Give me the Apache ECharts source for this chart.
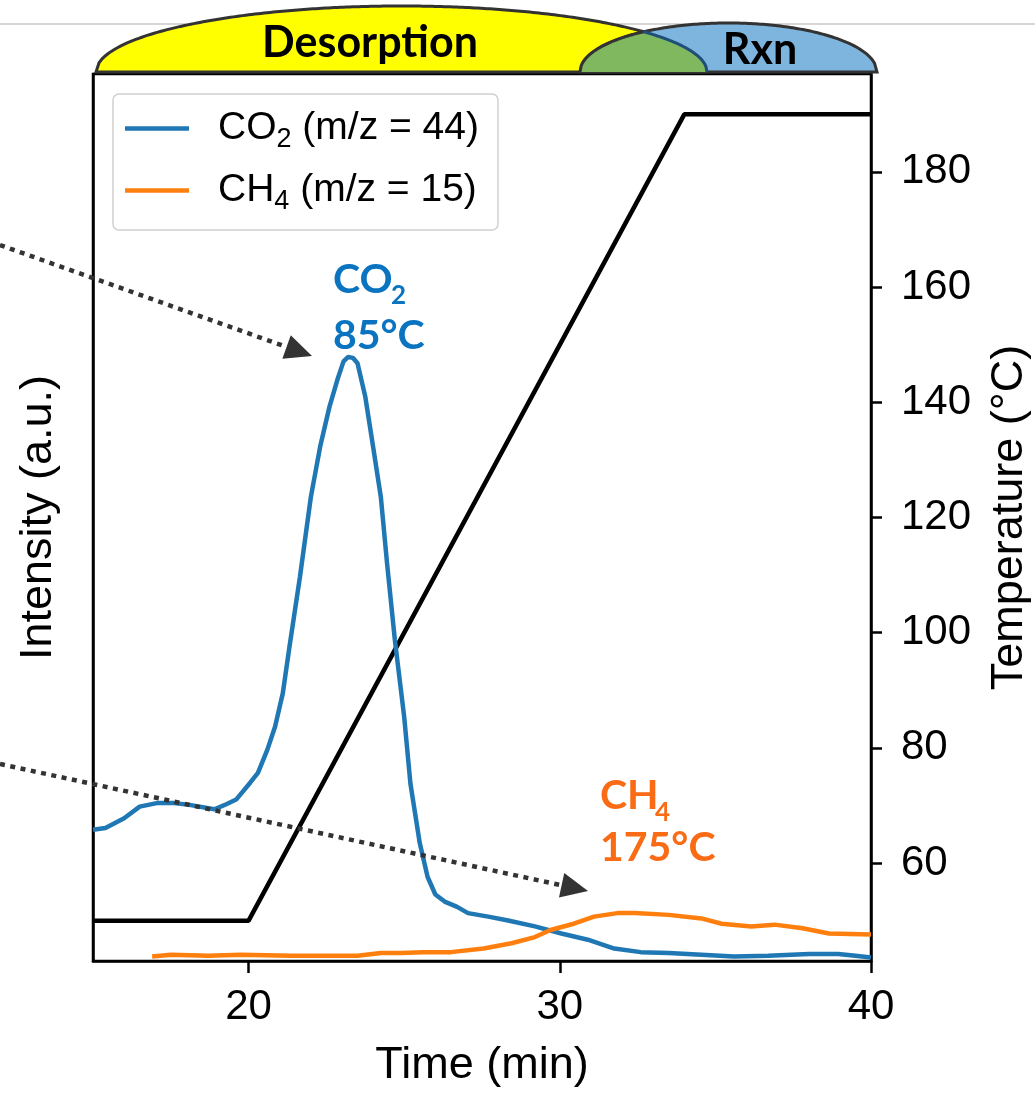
<!DOCTYPE html>
<html><head><meta charset="utf-8">
<script src="https://cdn.jsdelivr.net/npm/echarts@6/dist/echarts.min.js"></script>
<style>html,body{margin:0;padding:0;background:#fff;overflow:hidden}#c{width:1035px;height:1094px}</style>
</head><body><div id="c"></div>
<script>
// ---- data ----
const co2Time = [15.0,15.4,16.0,16.5,17.05,17.6,18.1,18.9,19.3,19.6,20.05,20.3,20.6,20.85,21.1,21.3,21.65,22.0,22.3,22.6,22.85,23.05,23.2,23.35,23.5,23.75,24.0,24.25,24.45,24.7,25.0,25.2,25.5,25.75,26.0,26.3,26.7,27.05,27.7,28.3,29.2,30.05,30.9,31.75,32.6,33.5,34.55,35.6,36.7,38.0,38.95,39.5,40.0];
const co2Intensity = [14.8,15.0,16.1,17.4,17.8,17.8,17.6,17.1,17.7,18.2,20.1,21.2,23.8,26.4,30.2,35.1,43.3,52.3,58.0,62.5,65.5,67.6,68.1,68.0,67.4,63.6,58.0,52.3,44.8,36.2,27.5,20.0,13.3,9.5,7.5,6.7,6.1,5.4,5.0,4.6,3.9,3.1,2.4,1.4,1.0,0.9,0.7,0.5,0.6,0.8,0.8,0.6,0.4];
const ch4Time = [16.9,17.5,18.7,19.75,21.35,23.5,24.25,24.9,25.6,26.5,27.55,28.45,29.2,29.7,30.45,31.1,31.85,32.4,33.5,34.55,35.2,36.15,36.9,37.8,38.65,40.0];
const ch4Intensity = [0.5,0.7,0.6,0.7,0.6,0.6,0.9,0.9,1.0,1.0,1.4,2.0,2.7,3.5,4.2,5.0,5.4,5.4,5.2,4.8,4.2,3.9,4.1,3.7,3.1,3.0];
const tempTime = [15,20,34,40];
const tempValues = [50,50,190,190];
const timeTicks = [20,30,40];
const tempTicks = [60,80,100,120,140,160,180];
const seriesNames = ['CO2 (m/z = 44)','CH4 (m/z = 15)'];
const legendRich = {'CO2 (m/z = 44)':['CO','2',' (m/z = 44)'],'CH4 (m/z = 15)':['CH','4',' (m/z = 15)']};

const F = "'Liberation Sans', Arial, sans-serif";
const B = "Lato, 'Open Sans', sans-serif";
const pairs = (xs, ys) => xs.map((x,i)=>[x, ys[i]]);

const chart = echarts.init(document.getElementById('c'), null, {renderer:'canvas'});

// ---- header shapes (decoration) ----
const yel = {cx:401.5, a:305.5, b:66, base:72};
const blu = {cx:728.5, a:148.5, b:49, base:72};
function arcY(e,x){const u=(x-e.cx)/e.a; return e.base - e.b*Math.sqrt(Math.max(0,1-u*u));}
function arcPts(e,x0,x1,n){const p=[];for(let i=0;i<=n;i++){const x=x0+(x1-x0)*i/n;p.push([x,arcY(e,x)]);}return p;}
let lo=blu.cx-blu.a+0.01, hi=yel.cx+yel.a-0.01;
for(let i=0;i<60;i++){const m=(lo+hi)/2; if(arcY(yel,m)-arcY(blu,m)<0) lo=m; else hi=m;}
const xi=(lo+hi)/2;
const yelPts = arcPts(yel, yel.cx-yel.a, yel.cx+yel.a, 200);
const bluPts = arcPts(blu, blu.cx-blu.a, blu.cx+blu.a, 120);
const gBlue = arcPts(blu, blu.cx-blu.a, xi, 60);
const gYel = arcPts(yel, xi, yel.cx+yel.a, 60);
const greenPts = gBlue.concat(gYel.slice(1));

function arrow(x0,y0,tx,ty,len,hw){
  const dx=tx-x0, dy=ty-y0, L=Math.hypot(dx,dy), ux=dx/L, uy=dy/L;
  const bx=tx-ux*len, by=ty-uy*len;
  return [
    {type:'line', z:100, shape:{x1:x0,y1:y0,x2:bx,y2:by}, style:{stroke:'#333',lineWidth:4.5,lineDash:[5,5.5]}},
    {type:'polygon', z:100, shape:{points:[[tx,ty],[bx-uy*hw,by+ux*hw],[bx+uy*hw,by-ux*hw]]}, style:{fill:'#333'}}
  ];
}

const graphic = [
  {type:'line', z:1, shape:{x1:0,y1:24,x2:1035,y2:24}, style:{stroke:'#c8c8c8',lineWidth:1.5}},
  {type:'polygon', z:2, shape:{points:yelPts}, style:{fill:'#ffff00',stroke:'#333',lineWidth:3}},
  {type:'polygon', z:3, shape:{points:bluPts}, style:{fill:'#7db5de',stroke:'#333',lineWidth:3}},
  {type:'polygon', z:4, shape:{points:greenPts}, style:{fill:'#7fb85f'}},
  {type:'polyline', z:5, shape:{points:gBlue}, style:{stroke:'#333',lineWidth:3,fill:null}},
  {type:'polyline', z:5, shape:{points:gYel}, style:{stroke:'#1f4e79',lineWidth:3,fill:null}},
  {type:'text', z:6, style:{text:'Desorption', x:370, y:43, align:'center', verticalAlign:'middle', font:"bold 43px "+B, fill:'#000'}},
  {type:'text', z:6, style:{text:'Rxn', x:760, y:50, align:'center', verticalAlign:'middle', font:"bold 43px "+B, fill:'#000'}},
  {type:'text', z:100, style:{text:'CO', x:333, y:280, align:'left', verticalAlign:'middle', font:"bold 41px "+B, fill:'#0a74c0'}},
  {type:'text', z:100, style:{text:'2', x:391, y:296, align:'left', verticalAlign:'middle', font:"bold 26px "+B, fill:'#0a74c0'}},
  {type:'text', z:100, style:{text:'85°C', x:333, y:336, align:'left', verticalAlign:'middle', font:"bold 41px "+B, fill:'#0a74c0'}},
  {type:'text', z:100, style:{text:'CH', x:600, y:796, align:'left', verticalAlign:'middle', font:"bold 41px "+B, fill:'#f96b14'}},
  {type:'text', z:100, style:{text:'4', x:655, y:813, align:'left', verticalAlign:'middle', font:"bold 26px "+B, fill:'#f96b14'}},
  {type:'text', z:100, style:{text:'175°C', x:600, y:848, align:'left', verticalAlign:'middle', font:"bold 41px "+B, fill:'#f96b14'}}
].concat(arrow(0,245,312,356,27,12.5), arrow(0,764,588,891,27,12.5));

const axisLineStyle = {color:'#000', width:2.5};
const option = {
  animation:false,
  backgroundColor:'#fff',
  grid:{left:93,right:164,top:74,bottom:133,outerBoundsMode:'none',containLabel:false,show:true,borderColor:'#000',borderWidth:2.5,backgroundColor:'transparent'},
  legend:{
    data:seriesNames, left:113, top:94, orient:'vertical',
    padding:[15,19,15,12], itemGap:18, itemWidth:64, itemHeight:4.5, icon:'rect',
    backgroundColor:'rgba(255,255,255,0.8)', borderColor:'#d0d0d0', borderWidth:1.5, borderRadius:6,
    formatter: name => { const r=legendRich[name]; return '{n|'+r[0]+'}{s|'+r[1]+'}{n|'+r[2]+'}'; },
    textStyle:{padding:[0,0,0,24], rich:{
      n:{fontFamily:F,fontSize:39,color:'#000'},
      s:{fontFamily:F,fontSize:27,color:'#000',padding:[22,0,0,0]}
    }}
  },
  xAxis:{
    type:'value', min:15, max:40,
    name:'Time (min)', nameLocation:'middle', nameGap:82,
    nameTextStyle:{fontFamily:F,fontSize:45,color:'#000'},
    axisLine:{show:true,lineStyle:axisLineStyle},
    axisTick:{show:true,customValues:timeTicks,length:12,inside:false,lineStyle:axisLineStyle},
    axisLabel:{customValues:timeTicks,fontFamily:F,fontSize:42,color:'#000',margin:25},
    splitLine:{show:false}
  },
  yAxis:[
    {type:'value', min:0, max:100, position:'left',
     name:'Intensity (a.u.)', nameLocation:'middle', nameRotate:90, nameGap:32,
     nameTextStyle:{fontFamily:F,fontSize:45,color:'#000'},
     axisLine:{show:true,lineStyle:axisLineStyle}, axisTick:{show:false}, axisLabel:{show:false}, splitLine:{show:false}},
    {type:'value', min:43, max:197, position:'right',
     name:'Temperature (°C)', nameLocation:'middle', nameRotate:90, nameGap:116,
     nameTextStyle:{fontFamily:F,fontSize:45,color:'#000'},
     axisLine:{show:true,lineStyle:axisLineStyle},
     axisTick:{show:true,customValues:tempTicks,length:11,inside:false,lineStyle:axisLineStyle},
     axisLabel:{customValues:tempTicks,fontFamily:F,fontSize:42,color:'#000',margin:30},
     splitLine:{show:false}}
  ],
  series:[
    {name:'Temperature', type:'line', yAxisIndex:1, data:pairs(tempTime,tempValues), symbol:'none',
     lineStyle:{color:'#000',width:4.5}, itemStyle:{color:'#000'}, z:2},
    {name:seriesNames[0], type:'line', yAxisIndex:0, data:pairs(co2Time,co2Intensity), symbol:'none',
     lineStyle:{color:'#1f77b4',width:4.5}, itemStyle:{color:'#1f77b4'}, z:3},
    {name:seriesNames[1], type:'line', yAxisIndex:0, data:pairs(ch4Time,ch4Intensity), symbol:'none',
     lineStyle:{color:'#ff7f0e',width:4.5}, itemStyle:{color:'#ff7f0e'}, z:3}
  ],
  graphic: graphic
};
chart.setOption(option);
</script></body></html>
